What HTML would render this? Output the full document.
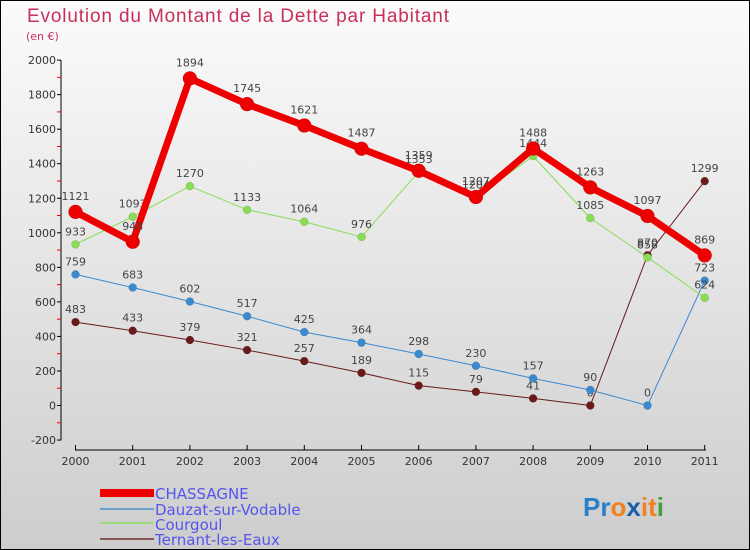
<!DOCTYPE html>
<html><head><meta charset="utf-8"><style>
body{margin:0}
#c{width:750px;height:550px;position:relative;overflow:hidden;font-family:"DejaVu Sans","Liberation Sans",sans-serif}
</style></head><body>
<div id="c">
<svg id="s" width="750" height="550" xmlns="http://www.w3.org/2000/svg">
<defs><linearGradient id="bg" x1="0" y1="0" x2="0" y2="1"><stop offset="0" stop-color="#fbfbfb"/><stop offset="1" stop-color="#cdcdcd"/></linearGradient></defs>
<rect x="0.5" y="0.5" width="749" height="549" fill="url(#bg)" stroke="#000"/>
<text x="27" y="22" font-size="19" fill="#c8305a" font-weight="300" style="font-family:'Liberation Sans',sans-serif" textLength="422">Evolution du Montant de la Dette par Habitant</text>
<text x="26" y="40" font-size="11" fill="#c8305a">(en €)</text>
<g id="axes"></g><g id="series"></g>
<g>
<rect x="100" y="489" width="54" height="8" fill="#ee0000"/>
<text x="155" y="499" font-size="15" fill="#5555ee">CHASSAGNE</text>
<rect x="100" y="508" width="54" height="2" fill="#6aa0cc"/>
<text x="155" y="515" font-size="15" fill="#5555ee">Dauzat-sur-Vodable</text>
<rect x="100" y="522" width="54" height="2" fill="#99dd77"/>
<text x="155" y="530" font-size="15" fill="#5555ee">Courgoul</text>
<rect x="100" y="538" width="54" height="2" fill="#8a5555"/>
<text x="155" y="545" font-size="15" fill="#5555ee">Ternant-les-Eaux</text>
</g>
<g font-size="26" font-weight="bold" style="font-family:'Liberation Sans',sans-serif">
<text x="583" y="516"><tspan fill="#2a7fc9">Pr</tspan><tspan fill="#f08020">o</tspan><tspan fill="#1a5fa9">x</tspan><tspan fill="#f08020">i</tspan><tspan fill="#f08020">t</tspan><tspan fill="#40a040">i</tspan></text>
</g>
</svg>
</div>
<script>
const years=[2000,2001,2002,2003,2004,2005,2006,2007,2008,2009,2010,2011];
const yTicks=[-200,0,200,400,600,800,1000,1200,1400,1600,1800,2000];
const chassagne=[1121,948,1894,1745,1621,1487,1359,1207,1488,1263,1097,869];
const dauzat=[759,683,602,517,425,364,298,230,157,90,0,723];
const courgoul=[933,1093,1270,1133,1064,976,1353,1204,1444,1085,858,624];
const ternant=[483,433,379,321,257,189,115,79,41,0,870,1299];
const NS='http://www.w3.org/2000/svg';
function X(i){return 75.5+i*57.2;}
function Y(v){return 405.5-v*0.1727;}
function mk(tag,attrs,parent){const e=document.createElementNS(NS,tag);for(const k in attrs)e.setAttribute(k,attrs[k]);parent.appendChild(e);return e;}
const ax=document.getElementById('axes');
let l=mk('line',{x1:61,y1:60,x2:61,y2:440.5,stroke:'#000','stroke-width':1},ax);


l=mk('line',{x1:75,y1:450,x2:706,y2:450,stroke:'#000','stroke-width':1},ax);


for(let v=-200;v<=2000;v+=100){const y=Y(v);mk('line',{x1:57,y1:y,x2:61,y2:y,stroke:(v%200===0)?'#000':'#e00','stroke-width':1},ax);}
yTicks.forEach(v=>{const t=mk('text',{x:56,y:Y(v)+4,'font-size':11,fill:'#333','text-anchor':'end'},ax);t.textContent=v;

});
years.forEach((yr,i)=>{mk('line',{x1:X(i),y1:445,x2:X(i),y2:450,stroke:'#000'},ax);const t=mk('text',{x:X(i),y:465,'font-size':11,fill:'#333','text-anchor':'middle'},ax);t.textContent=yr;

});
const sg=document.getElementById('series');
function draw(data,color,w,r,name){
 const g=mk('g',{},sg);
 
 
 const p=mk('polyline',{points:data.map((v,i)=>X(i)+','+Y(v)).join(' '),fill:'none',stroke:color,'stroke-width':w,'stroke-linejoin':'round'},g);
 
 
 data.forEach((v,i)=>{const c=mk('circle',{cx:X(i),cy:Y(v),r:r,fill:color,stroke:'rgba(0,0,0,0.2)','stroke-width':0.5},g);
 
 
 const t=mk('text',{x:X(i),y:Y(v)-9-(r>5?3:0),'font-size':11,fill:'#444','text-anchor':'middle'},g);t.textContent=v;
 
 });
}
draw(ternant,'#6b1a1a',1,4,'ternant');
draw(dauzat,'#3a8ad0',1,4,'dauzat');
draw(courgoul,'#88dd55',1,4,'courgoul');
draw(chassagne,'#ee0000',7,7,'chassagne');
</script>
</body></html>
